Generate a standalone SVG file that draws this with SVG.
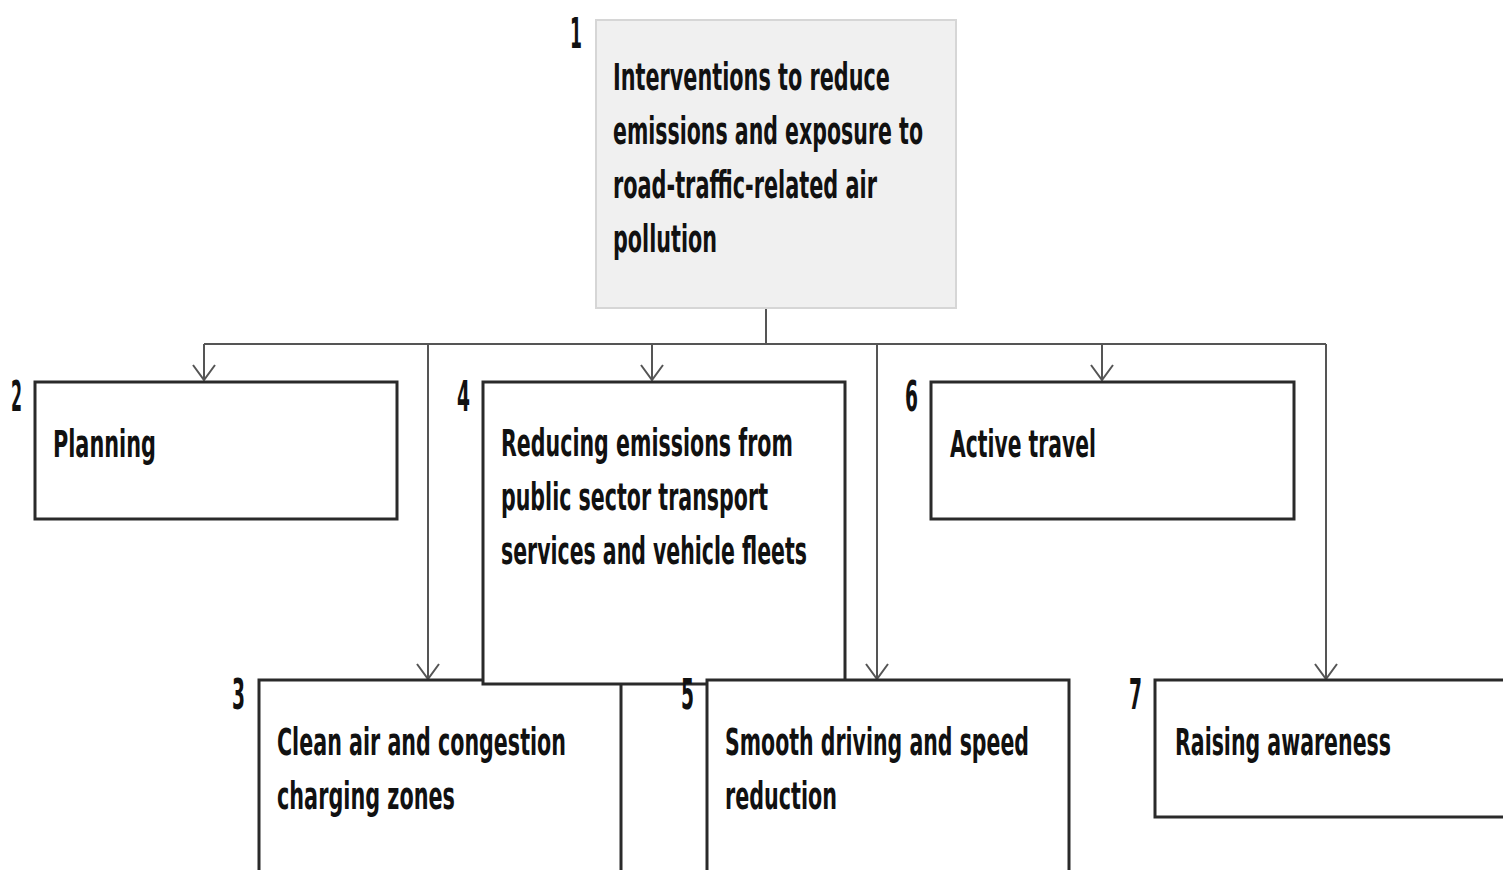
<svg xmlns="http://www.w3.org/2000/svg" width="1503" height="870" viewBox="0 0 1503 870">
<style>
.box{fill:#fff;stroke:#2a2a2a;stroke-width:3}
.root{fill:#f0f0f0;stroke:#d6d6d6;stroke-width:2}
.t{font-family:"DejaVu Sans",sans-serif;font-weight:bold;font-size:37px;fill:#111}
.n{font-family:"DejaVu Sans",sans-serif;font-weight:bold;font-size:43px;fill:#111}
.c{fill:none;stroke:#555;stroke-width:2}
</style>
<defs>
<marker id="arr" markerUnits="userSpaceOnUse" markerWidth="30" markerHeight="30" refX="16" refY="12" orient="auto" viewBox="0 0 30 30">
<path d="M1,1 L16,12 L1,23" fill="none" stroke="#555" stroke-width="2"/>
</marker>
</defs>
<g id="connectors">
<path class="c" d="M766,308 V344"/>
<path class="c" d="M204,344 H1326"/>
<path class="c" d="M204,344 V380" marker-end="url(#arr)"/>
<path class="c" d="M652,344 V380" marker-end="url(#arr)"/>
<path class="c" d="M1102,344 V380" marker-end="url(#arr)"/>
<path class="c" d="M428,344 V679" marker-end="url(#arr)"/>
<path class="c" d="M877,344 V679" marker-end="url(#arr)"/>
<path class="c" d="M1326,344 V679" marker-end="url(#arr)"/>
</g>
<g id="node1">
<rect class="root" x="596" y="20" width="360" height="288"/>
<g transform="scale(0.56 1)">
<text class="n" x="1017.9" y="48" textLength="21.4" lengthAdjust="spacingAndGlyphs">1</text>
<text class="t" x="1094.6" y="90" textLength="494.6" lengthAdjust="spacingAndGlyphs">Interventions to reduce</text>
<text class="t" x="1094.6" y="144" textLength="553.6" lengthAdjust="spacingAndGlyphs">emissions and exposure to</text>
<text class="t" x="1094.6" y="198" textLength="471.4" lengthAdjust="spacingAndGlyphs">road-traffic-related air</text>
<text class="t" x="1094.6" y="252" textLength="185.7" lengthAdjust="spacingAndGlyphs">pollution</text>
</g>
</g>
<g id="node2">
<rect class="box" x="35" y="382" width="362" height="137"/>
<g transform="scale(0.56 1)">
<text class="n" x="19.6" y="411" textLength="19.6" lengthAdjust="spacingAndGlyphs">2</text>
<text class="t" x="94.6" y="457" textLength="183.9" lengthAdjust="spacingAndGlyphs">Planning</text>
</g>
</g>
<g id="node6">
<rect class="box" x="931" y="382" width="363" height="137"/>
<g transform="scale(0.56 1)">
<text class="n" x="1616.1" y="411" textLength="23.2" lengthAdjust="spacingAndGlyphs">6</text>
<text class="t" x="1696.4" y="457" textLength="260.7" lengthAdjust="spacingAndGlyphs">Active travel</text>
</g>
</g>
<g id="node3">
<rect class="box" x="259" y="680" width="362" height="200"/>
<g transform="scale(0.56 1)">
<text class="n" x="414.3" y="709" textLength="23.2" lengthAdjust="spacingAndGlyphs">3</text>
<text class="t" x="494.6" y="755" textLength="516.1" lengthAdjust="spacingAndGlyphs">Clean air and congestion</text>
<text class="t" x="494.6" y="809" textLength="317.9" lengthAdjust="spacingAndGlyphs">charging zones</text>
</g>
</g>
<g id="node4">
<rect class="box" x="483" y="382" width="362" height="302"/>
<g transform="scale(0.56 1)">
<text class="n" x="816.1" y="411" textLength="23.2" lengthAdjust="spacingAndGlyphs">4</text>
<text class="t" x="894.6" y="456" textLength="521.4" lengthAdjust="spacingAndGlyphs">Reducing emissions from</text>
<text class="t" x="894.6" y="510" textLength="476.8" lengthAdjust="spacingAndGlyphs">public sector transport</text>
<text class="t" x="894.6" y="564" textLength="546.4" lengthAdjust="spacingAndGlyphs">services and vehicle fleets</text>
</g>
</g>
<g id="node5">
<rect class="box" x="707" y="680" width="362" height="200"/>
<g transform="scale(0.56 1)">
<text class="n" x="1216.1" y="709" textLength="23.2" lengthAdjust="spacingAndGlyphs">5</text>
<text class="t" x="1294.6" y="755" textLength="542.9" lengthAdjust="spacingAndGlyphs">Smooth driving and speed</text>
<text class="t" x="1294.6" y="809" textLength="200" lengthAdjust="spacingAndGlyphs">reduction</text>
</g>
</g>
<g id="node7">
<rect class="box" x="1155" y="680" width="360" height="137"/>
<g transform="scale(0.56 1)">
<text class="n" x="2016.1" y="709" textLength="23.2" lengthAdjust="spacingAndGlyphs">7</text>
<text class="t" x="2098.2" y="755" textLength="385.7" lengthAdjust="spacingAndGlyphs">Raising awareness</text>
</g>
</g>
</svg>
